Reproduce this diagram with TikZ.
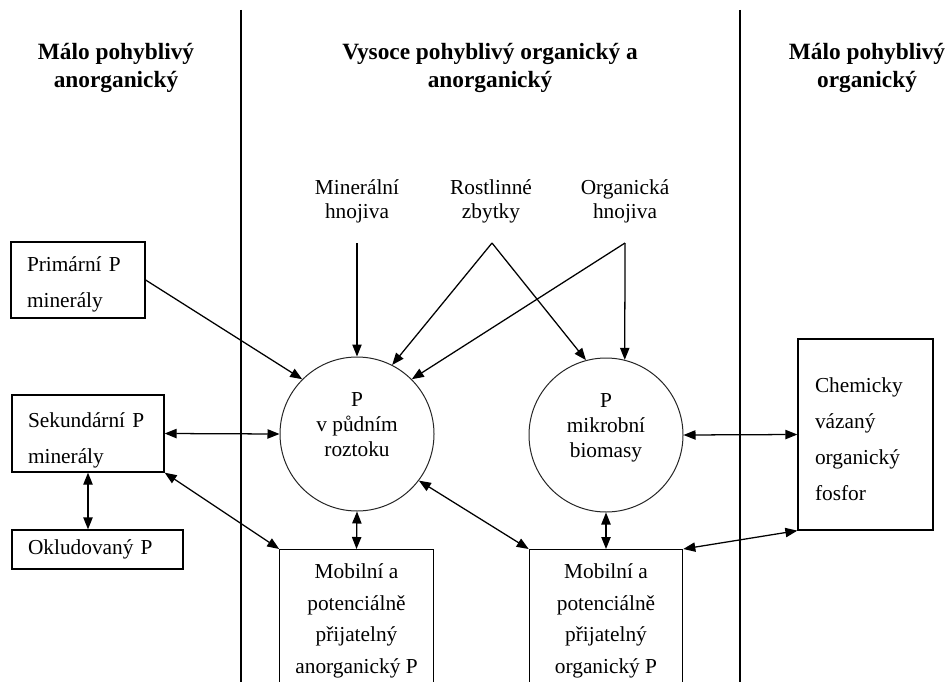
\documentclass[tikz,border=0pt]{standalone}
\usepackage{fontspec}
\setmainfont{Liberation Serif}
\usetikzlibrary{arrows.meta}

\tikzset{
  >={Triangle[length=9pt,width=7pt]},
  pline/.style={line width=0.95pt},
  pbox/.style={draw, pline, rectangle, align=left, inner xsep=12pt, inner ysep=0pt, font=\fontsize{16}{27}\selectfont},
  mbox/.style={draw, pline, rectangle, align=center, anchor=north, inner xsep=6pt, inner ysep=10.5pt, minimum width=115pt, font=\fontsize{16}{23.8}\selectfont},
  pcirc/.style={draw=black!85, line width=0.75pt, circle, minimum size=115.5pt, inner sep=0pt, align=center, font=\fontsize{16}{18.75}\selectfont},
  head/.style={align=center, font=\bfseries\fontsize{17.5}{21}\selectfont},
  src/.style={align=center, font=\fontsize{16}{18}\selectfont},
}

\begin{document}
\begin{tikzpicture}[x=0.75pt,y=0.75pt,yscale=-1,xscale=1]
  \useasboundingbox (0,0) rectangle (948,681);
  \clip (0,0) rectangle (948,681);

  %Straight Lines (column dividers)
  \draw [pline] (241,10) -- (241,690);
  \draw [pline] (740,10) -- (740,690);

  % Text Node (headers)
  \node [head] (hleft) at (116,68) {Málo pohyblivý\\anorganický};
  \node [head] (hmid) at (490,68) {Vysoce pohyblivý organický a\\anorganický};
  \node [head] (hright) at (867,68) {Málo pohyblivý\\organický};

  % Text Node (inputs)
  \node [src] (mineral) at (357,201) {Minerální\\hnojiva};
  \node [src] (rostl) at (491,201) {Rostlinné\\zbytky};
  \node [src] (organ) at (625,201) {Organická\\hnojiva};
  \coordinate (minA) at (357,243);
  \coordinate (rostA) at (492,243);
  \coordinate (orgA) at (625,243);

  %Shape: Circle
  \node [pcirc] (soil) at (357,434) {P\\v půdním\\roztoku\rule[-13.5pt]{0pt}{0pt}};
  \node [pcirc] (micro) at (606,435) {P\\mikrobní\\biomasy\rule[-13.5pt]{0pt}{0pt}};

  %Shape: Rectangle
  \node [pbox, text width=76.5pt, minimum height=57pt] (prim) at (78,280) {\rule{0pt}{18.4pt}Primární P\\minerály};
  \node [pbox, text width=90pt, minimum height=57.75pt] (sek) at (88,433.5) {\rule{0pt}{21.4pt}Sekundární P\\minerály};
  \node [pbox, text width=104.25pt, minimum height=29.25pt] (okl) at (97.5,549.5) {Okludovaný P};
  \node [pbox, text width=75.75pt, inner xsep=12.75pt, minimum height=143.25pt] (chem) at (865.5,434.5) {\rule{0pt}{18.4pt}Chemicky\\vázaný\\organický\\fosfor};
  \node [mbox] (mobin) at (356.5,549) {Mobilní a\\potenciálně\\přijatelný\\anorganický P\rule[-20pt]{0pt}{0pt}};
  \node [mbox] (mobor) at (606,549) {Mobilní a\\potenciálně\\přijatelný\\organický P\rule[-20pt]{0pt}{0pt}};

  %Straight Lines (inputs)
  \draw [pline,->] (minA) -- (soil.north);
  \draw [pline,->] (rostA) -- (soil.63);
  \draw [pline,->] (rostA) -- (micro.105);
  \draw [pline,->] (orgA) -- (soil.45);
  \draw [pline,->] (orgA) -- (micro.76);
  \draw [pline,->] (prim.east) -- (soil.135);

  %Straight Lines (exchange)
  \draw [pline,<->] (sek.east) -- (soil.west);
  \draw [pline,<->] (sek.south) -- (sek.south |- okl.north);
  \draw [pline,<->] (sek.south east) -- (mobin.north west);
  \draw [pline,<->] (soil.south) -- (mobin.north);
  \draw [pline,<->] (micro.south) -- (mobor.north);
  \draw [pline,<->] (mobor.north west) -- (soil.-37);
  \draw [pline,<->] (micro.east) -- (chem.west);
  \draw [pline,<->] (chem.south west) -- (mobor.north east);
\end{tikzpicture}
\end{document}
